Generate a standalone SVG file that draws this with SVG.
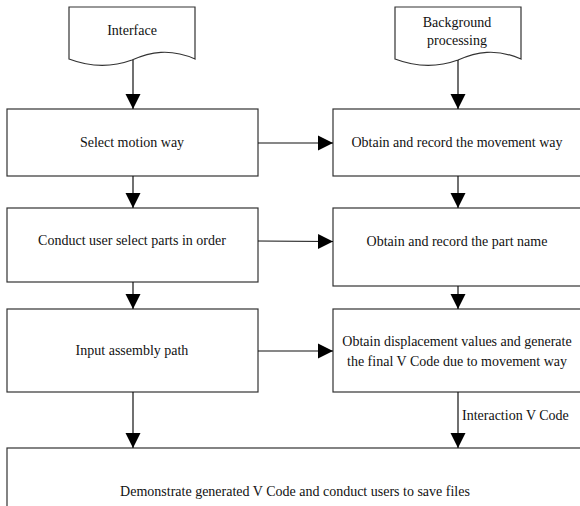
<svg xmlns="http://www.w3.org/2000/svg" width="580" height="506" viewBox="0 0 580 506">
<style>
.box{fill:#fff;stroke:#333;stroke-width:1.2}
.t{font-family:"Liberation Serif","Times New Roman",serif;font-size:14px;fill:#111;text-anchor:middle}
.l{font-family:"Liberation Serif","Times New Roman",serif;font-size:14px;fill:#111}
.c{stroke:#111;stroke-width:1.2;fill:none}
</style>
<defs>
<marker id="ah" markerUnits="userSpaceOnUse" markerWidth="16" markerHeight="16" viewBox="0 0 16 16" refX="15" refY="8" orient="auto">
<path d="M0,0.5 L15,8 L0,15.5 Z" fill="#000"/>
</marker>
</defs>
<rect width="580" height="506" fill="#fff"/>
<g id="interface">
<path class="box" d="M69,7 H195 V59 C170,48 150,52 132,60 C110,68 90,67 69,59 Z"/>
<text class="t" x="132" y="35">Interface</text>
</g>
<g id="background">
<path class="box" d="M395,7 H521 V59 C496,48 476,52 458,60 C436,68 416,67 395,59 Z"/>
<text class="t" x="457" y="27">Background</text>
<text class="t" x="457" y="45">processing</text>
</g>
<g id="select">
<rect class="box" x="7" y="109" width="251" height="67"/>
<text class="t" x="132" y="147">Select motion way</text>
</g>
<g id="record-way">
<rect class="box" x="333" y="109" width="250" height="67"/>
<text class="t" x="457" y="147">Obtain and record the movement way</text>
</g>
<g id="conduct">
<rect class="box" x="7" y="208" width="251" height="74"/>
<text class="t" x="132" y="245">Conduct user select parts in order</text>
</g>
<g id="record-part">
<rect class="box" x="333" y="208" width="250" height="78"/>
<text class="t" x="457" y="246">Obtain and record the part name</text>
</g>
<g id="input">
<rect class="box" x="7" y="309" width="251" height="83"/>
<text class="t" x="132" y="355">Input assembly path</text>
</g>
<g id="displacement">
<rect class="box" x="333" y="309" width="250" height="83"/>
<text class="t" x="457" y="346">Obtain displacement values and generate</text>
<text class="t" x="457" y="366">the final V Code due to movement way</text>
</g>
<g id="demonstrate">
<rect class="box" x="7" y="448" width="580" height="70"/>
<text class="t" x="295" y="496">Demonstrate generated V Code and conduct users to save files</text>
</g>
<g id="connectors">
<line class="c" x1="133" y1="60" x2="133" y2="109" marker-end="url(#ah)"/>
<line class="c" x1="458" y1="60" x2="458" y2="109" marker-end="url(#ah)"/>
<line class="c" x1="133" y1="176" x2="133" y2="208" marker-end="url(#ah)"/>
<line class="c" x1="458" y1="176" x2="458" y2="208" marker-end="url(#ah)"/>
<line class="c" x1="133" y1="282" x2="133" y2="309" marker-end="url(#ah)"/>
<line class="c" x1="458" y1="286" x2="458" y2="309" marker-end="url(#ah)"/>
<line class="c" x1="133" y1="392" x2="133" y2="448" marker-end="url(#ah)"/>
<line class="c" x1="458" y1="392" x2="458" y2="448" marker-end="url(#ah)"/>
<line class="c" x1="258" y1="143" x2="333" y2="143" marker-end="url(#ah)"/>
<line class="c" x1="258" y1="241" x2="333" y2="241.5" marker-end="url(#ah)"/>
<line class="c" x1="258" y1="351" x2="333" y2="351" marker-end="url(#ah)"/>
<text class="l" x="462" y="420">Interaction V Code</text>
</g>
</svg>
